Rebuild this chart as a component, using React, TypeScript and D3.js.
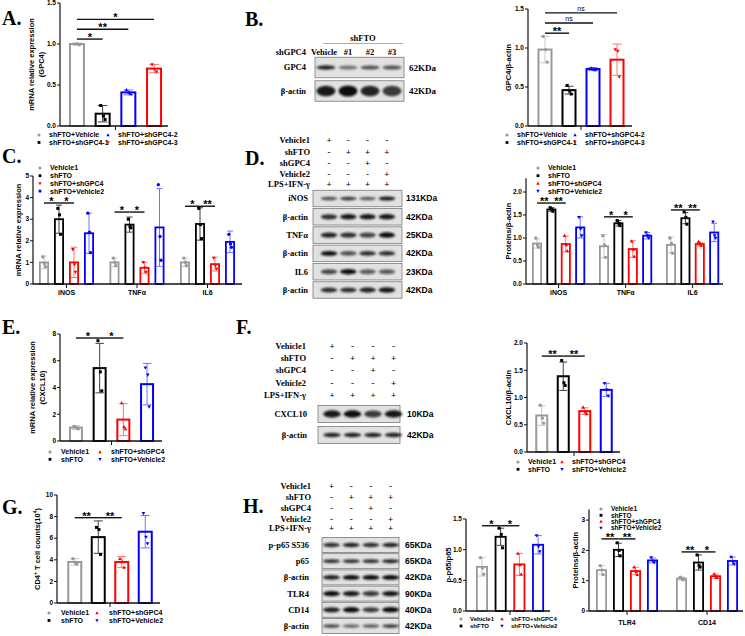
import React from "react";
import * as d3 from "d3";

// ---------------- DATA ----------------
const seriesA = ["shFTO+Vehicle", "shFTO+shGPC4-1", "shFTO+shGPC4-2", "shFTO+shGPC4-3"];
const seriesMain = ["Vehicle1", "shFTO", "shFTO+shGPC4", "shFTO+Vehicle2"];
const catsCD = ["iNOS", "TNFα", "IL6"];
const catsH2 = ["TLR4", "CD14"];
const single = [""];

// A: mRNA GPC4
const aMean = [1.0, 0.15, 0.41, 0.70];
const aSD = [0.01, 0.1, 0.03, 0.05];
const aPts = [[1.0, 1.0, 0.99], [0.25, 0.12, 0.08], [0.44, 0.41, 0.39], [0.75, 0.69, 0.66]];
// B: GPC4/β-actin
const bMean = [0.98, 0.46, 0.73, 0.85];
const bSD = [0.17, 0.05, 0.02, 0.2];
const bPts = [[1.15, 0.98, 0.82], [0.52, 0.45, 0.41], [0.74, 0.73, 0.72], [0.98, 0.96, 0.63]];
// C: mRNA iNOS/TNFα/IL6  [cat][series]
const cMean = [[1.0, 3.0, 1.0, 2.35], [1.0, 2.75, 0.75, 2.62], [1.0, 2.78, 0.92, 1.95]];
const cSD = [[0.3, 0.65, 0.7, 0.93], [0.2, 0.35, 0.25, 1.8], [0.2, 0.75, 0.32, 0.5]];
const cPts = [
  [[1.25, 0.95, 0.8], [3.5, 3.2, 2.3], [1.6, 0.9, 0.55], [3.28, 2.4, 1.45]],
  [[1.2, 1.0, 0.85], [3.0, 2.65, 2.6], [1.0, 0.75, 0.55], [4.6, 2.2, 1.1]],
  [[1.2, 1.0, 0.85], [3.5, 2.75, 2.1], [1.2, 0.85, 0.7], [2.3, 1.85, 1.7]],
];
// D: Proteins/β-actin
const dMean = [[0.88, 1.62, 0.87, 1.23], [0.82, 1.32, 0.76, 1.05], [0.85, 1.43, 0.87, 1.12]];
const dSD = [[0.1, 0.04, 0.17, 0.23], [0.25, 0.06, 0.18, 0.07], [0.17, 0.12, 0.04, 0.2]];
const dPts = [
  [[1.0, 0.85, 0.8], [1.66, 1.62, 1.58], [1.05, 0.85, 0.72], [1.45, 1.2, 1.05]],
  [[1.05, 0.85, 0.58], [1.38, 1.32, 1.27], [0.93, 0.75, 0.6], [1.12, 1.05, 1.0]],
  [[1.0, 0.88, 0.67], [1.57, 1.45, 1.3], [0.92, 0.87, 0.84], [1.35, 1.05, 1.0]],
];
// E: mRNA CXCL10
const eMean = [1.0, 5.45, 1.6, 4.25];
const eSD = [0.15, 1.85, 1.2, 1.55];
const ePts = [[1.1, 1.0, 0.9], [7.5, 5.17, 3.75], [2.85, 1.05, 0.9], [5.47, 4.94, 2.55]];
// F: CXCL10/β-actin
const fMean = [0.67, 1.39, 0.75, 1.14];
const fSD = [0.18, 0.26, 0.06, 0.12];
const fPts = [[0.86, 0.62, 0.53], [1.68, 1.27, 1.22], [0.82, 0.73, 0.7], [1.26, 1.14, 1.03]];
// G: CD4+ T cell counts
const gMean = [3.8, 6.1, 3.8, 6.6];
const gSD = [0.3, 1.5, 0.5, 1.5];
const gPts = [[4.1, 3.7, 3.6], [7.0, 6.8, 4.5], [4.1, 3.8, 3.3], [8.3, 6.1, 5.5]];
// H1: p-p65/p65
const h1Mean = [0.72, 1.21, 0.76, 1.08];
const h1SD = [0.15, 0.14, 0.18, 0.15];
const h1Pts = [[0.87, 0.7, 0.6], [1.35, 1.25, 1.03], [0.94, 0.75, 0.6], [1.23, 1.05, 0.97]];
// H2: TLR4 / CD14
const h2Mean = [[1.35, 2.02, 1.32, 1.67], [1.07, 1.6, 1.15, 1.65]];
const h2SD = [[0.15, 0.22, 0.12, 0.08], [0.05, 0.25, 0.07, 0.13]];
const h2Pts = [
  [[1.5, 1.35, 1.2], [2.25, 2.0, 1.82], [1.45, 1.3, 1.2], [1.76, 1.65, 1.6]],
  [[1.12, 1.07, 1.03], [1.85, 1.5, 1.45], [1.22, 1.12, 1.1], [1.78, 1.62, 1.55]],
];

// Blots
const lanes4 = ["L1", "L2", "L3", "L4"];
const treatLabels = ["Vehicle1", "shFTO", "shGPC4", "Vehicle2", "LPS+IFN-γ"];
const treatMatrix = [
  ["+", "-", "-", "-"],
  ["-", "+", "+", "+"],
  ["-", "-", "+", "-"],
  ["-", "-", "-", "+"],
  ["+", "+", "+", "+"],
];
const bLaneLabels = ["Vehicle", "#1", "#2", "#3"];
const bBlotNames = ["GPC4", "β-actin"];
const bBlotKDa = ["62KDa", "42KDa"];
const bBlotBands = [[0.85, 0.5, 0.65, 0.65], [0.9, 1.0, 0.85, 0.75]];
const dBlotNames = ["iNOS", "β-actin", "TNFα", "β-actin", "IL6", "β-actin"];
const dBlotKDa = ["131KDa", "42KDa", "25KDa", "42KDa", "23KDa", "42KDa"];
const dBlotBands = [
  [0.65, 0.75, 0.6, 0.9], [0.8, 0.9, 0.9, 0.9], [0.85, 0.8, 0.7, 1.0],
  [0.95, 0.65, 0.8, 0.8], [0.7, 0.95, 0.6, 0.6], [0.8, 0.8, 0.85, 0.9],
];
const fBlotNames = ["CXCL10", "β-actin"];
const fBlotKDa = ["10KDa", "42KDa"];
const fBlotBands = [[0.9, 0.95, 0.75, 0.9], [0.85, 0.85, 0.85, 0.85]];
const hBlotNames = ["p-p65 S536", "p65", "β-actin", "TLR4", "CD14", "β-actin"];
const hBlotKDa = ["65KDa", "65KDa", "42KDa", "90KDa", "40KDa", "42KDa"];
const hBlotBands = [
  [0.8, 0.85, 0.8, 0.85], [0.8, 0.8, 0.8, 0.85], [0.85, 0.95, 0.95, 0.95],
  [0.95, 0.9, 0.75, 0.9], [0.85, 0.95, 0.75, 1.0], [0.7, 0.55, 0.6, 0.75],
];

// ---------------- STYLE ----------------
const SANS = "'Liberation Sans', Arial, Helvetica, sans-serif";
const SERIF = "'Liberation Serif', 'Times New Roman', serif";
const GRAY = "#999999", BLACK = "#000000", RED = "#ff0000", BLUE = "#0000ff";
const f1 = d3.format(".1f");
const fd = d3.format("d");

type Shape = "circle" | "square" | "up" | "down";

function bandAt(domain: string[], c0: number, step: number, width: number) {
  const pi = 1 - width / step;
  return d3
    .scaleBand<string>()
    .domain(domain)
    .range([c0 - step / 2, c0 - step / 2 + domain.length * step])
    .paddingInner(pi)
    .paddingOuter(pi / 2);
}

function Marker({ shape, x, y, color, s = 3 }: { shape: Shape; x: number; y: number; color: string; s?: number }) {
  if (shape === "circle") return <circle cx={x} cy={y} r={s * 0.55} fill={color} />;
  if (shape === "square") return <rect x={x - s / 2} y={y - s / 2} width={s} height={s} fill={color} />;
  if (shape === "up")
    return <path d={`M${x},${y - s * 0.65}L${x + s * 0.6},${y + s * 0.45}L${x - s * 0.6},${y + s * 0.45}Z`} fill={color} />;
  return <path d={`M${x},${y + s * 0.65}L${x + s * 0.6},${y - s * 0.45}L${x - s * 0.6},${y - s * 0.45}Z`} fill={color} />;
}

interface Sig { cat: number; v: number; segs: [number, number, string][] }
interface LegendCfg { x: number; y: number; textDx: number; colDx: number; rowDy: number; perCol: number; fs: number }
interface ChartCfg {
  axisX: number; y0: number; yTop: number; dmax: number; ticks: number[]; fmt: (n: number) => string;
  xEnd: number; cats: string[]; catC0: number; catStep: number;
  series: string[]; serStep: number; barW: number;
  means: number[][]; sds: number[][]; pts: number[][][];
  colors: string[]; shapes: Shape[]; sig: Sig[];
  ylabel: React.ReactNode[]; ylabelX: number[]; legend: LegendCfg; xLabelDy?: number; stroke?: number;
}

function Chart({ c }: { c: ChartCfg }) {
  const y = d3.scaleLinear().domain([0, c.dmax]).range([c.y0, c.yTop]);
  const outer = bandAt(c.cats, c.catC0, c.catStep, c.catStep * 0.9);
  const inner = bandAt(c.series, -1.5 * c.serStep, c.serStep, c.barW);
  const oc = (i: number) => outer(c.cats[i])! + outer.bandwidth() / 2;
  const ic = (j: number) => inner(c.series[j])! + inner.bandwidth() / 2;
  const bw = inner.bandwidth();
  const sw = c.stroke ?? 2;
  const cy = (c.y0 + c.yTop) / 2;
  const offs = [-0.12, 0.05, 0.15];
  const L = c.legend;
  return (
    <g>
      {c.ylabel.map((lab, k) => (
        <text key={k} transform={`translate(${c.ylabelX[k]},${cy}) rotate(-90)`} textAnchor="middle"
          fontSize={7.5} fontWeight="bold" fontFamily={SANS}>{lab}</text>
      ))}
      <line x1={c.axisX} x2={c.axisX} y1={c.y0} y2={c.yTop} stroke="#111" strokeWidth={1.2} />
      {c.ticks.map((t) => (
        <g key={t}>
          <line x1={c.axisX - 3} x2={c.axisX} y1={y(t)} y2={y(t)} stroke="#111" strokeWidth={1} />
          <text x={c.axisX - 4} y={y(t)} dy="0.35em" textAnchor="end" fontSize={6.5} fontWeight="bold" fontFamily={SANS}>
            {c.fmt(t)}
          </text>
        </g>
      ))}
      {c.cats.map((cat, i) =>
        c.series.map((s, j) => {
          const x = oc(i) + ic(j);
          const m = c.means[i][j];
          const sd = c.sds[i][j];
          const col = c.colors[j];
          const cap = bw * 0.3;
          return (
            <g key={cat + s}>
              <rect x={x - bw / 2 + sw / 2} y={y(m)} width={bw - sw} height={c.y0 - y(m)} fill="#fff" stroke={col} strokeWidth={sw} />
              <g stroke={col} strokeWidth={1} opacity={j === 1 ? 0.75 : 0.55}>
                <line x1={x} x2={x} y1={y(Math.max(0, m - sd))} y2={y(m + sd)} />
                <line x1={x - cap} x2={x + cap} y1={y(m + sd)} y2={y(m + sd)} />
                {m - sd > 0 && <line x1={x - cap} x2={x + cap} y1={y(m - sd)} y2={y(m - sd)} />}
              </g>
              {c.pts[i][j].map((p, k) => (
                <Marker key={k} shape={c.shapes[j]} x={x + offs[k] * bw} y={y(p)} color={col} s={3} />
              ))}
            </g>
          );
        })
      )}
      <line x1={c.axisX} x2={c.xEnd} y1={c.y0} y2={c.y0} stroke="#111" strokeWidth={1.4} />
      {c.cats.map((cat, i) => (
        <g key={"xt" + i}>
          <line x1={oc(i)} x2={oc(i)} y1={c.y0} y2={c.y0 + 4} stroke="#111" strokeWidth={1} />
          {cat && (
            <text x={oc(i)} y={c.y0 + (c.xLabelDy ?? 11)} textAnchor="middle" fontSize={7} fontWeight="bold" fontFamily={SANS}>{cat}</text>
          )}
        </g>
      ))}
      {c.sig.map((sg, si) =>
        sg.segs.map(([a, b, lab], k) => {
          const x1 = oc(sg.cat) + ic(a);
          const x2 = oc(sg.cat) + ic(b);
          const yy = y(sg.v);
          const isNs = lab === "ns";
          return (
            <g key={si + "-" + k}>
              <line x1={x1} x2={x2} y1={yy} y2={yy} stroke="#111" strokeWidth={1.4} />
              <text x={(x1 + x2) / 2} y={isNs ? yy - 2 : yy + 2} textAnchor="middle" fontFamily={SANS}
                fontSize={isNs ? 7 : 11} fontWeight={isNs ? "normal" : "bold"}>{lab}</text>
            </g>
          );
        })
      )}
      {c.series.map((s, j) => {
        const col = Math.floor(j / L.perCol);
        const row = j % L.perCol;
        const mx = L.x + col * L.colDx;
        const my = L.y + row * L.rowDy;
        return (
          <g key={"lg" + j}>
            <Marker shape={c.shapes[j]} x={mx} y={my} color={c.colors[j]} s={2.8} />
            <text x={mx + L.textDx} y={my} dy="0.35em" fontSize={L.fs} fontWeight="bold" fontFamily={SANS}>{s}</text>
          </g>
        );
      })}
    </g>
  );
}

interface BlotCfg {
  laneC0: number; laneStep: number; boxX0: number; boxX1: number;
  rowC0: number; rowStep: number; rowH: number;
  names: string[]; kda: string[]; bands: number[][]; thick: number[];
  labelEnd: number; kdaX: number; kdaSerif: boolean;
  header?: { baselines: number[]; labelEnd: number };
}

function Blot({ b }: { b: BlotCfg }) {
  const lane = bandAt(lanes4, b.laneC0, b.laneStep, b.laneStep * 0.86);
  const rowKeys = b.names.map((_, i) => "r" + i);
  const row = bandAt(rowKeys, b.rowC0, b.rowStep, b.rowH);
  const lc = (k: number) => lane(lanes4[k])! + lane.bandwidth() / 2;
  return (
    <g>
      {b.header &&
        treatLabels.map((lab, r) => (
          <g key={lab}>
            <text x={b.header!.labelEnd} y={b.header!.baselines[r]} textAnchor="end" fontSize={8.5} fontWeight="bold" fontFamily={SERIF}>{lab}</text>
            {treatMatrix[r].map((sgn, k) => (
              <text key={k} x={lc(k)} y={b.header!.baselines[r]} textAnchor="middle" fontSize={9} fontWeight="bold" fontFamily={SERIF}>{sgn}</text>
            ))}
          </g>
        ))}
      {b.names.map((nm, i) => {
        const top = row(rowKeys[i])!;
        const h = row.bandwidth();
        const cyy = top + h / 2;
        return (
          <g key={i}>
            <rect x={b.boxX0} y={top} width={b.boxX1 - b.boxX0} height={h} fill="#e1e1e1" stroke="#7a7a7a" strokeWidth={0.8} />
            {b.bands[i].map((v, k) => (
              <ellipse key={k} cx={lc(k)} cy={cyy} rx={lane.bandwidth() / 2} ry={(b.thick[i] / 2) * (0.75 + 0.25 * v)}
                fill="#111" opacity={Math.min(1, v * 1.05)} filter="url(#blurBand)" />
            ))}
            <text x={b.labelEnd} y={cyy} dy="0.35em" textAnchor="end" fontSize={8.5} fontWeight="bold" fontFamily={SERIF}>{nm}</text>
            <text x={b.kdaX} y={cyy} dy="0.35em" fontSize={b.kdaSerif ? 9 : 8.5} fontWeight="bold" fontFamily={b.kdaSerif ? SERIF : SANS}>{b.kda[i]}</text>
          </g>
        );
      })}
    </g>
  );
}

const colsA = [GRAY, BLACK, BLUE, RED];
const shapesA: Shape[] = ["circle", "square", "up", "down"];
const colsM = [GRAY, BLACK, RED, BLUE];
const shapesC: Shape[] = ["circle", "square", "down", "circle"];
const shapesM: Shape[] = ["circle", "square", "up", "down"];

const chartA: ChartCfg = {
  axisX: 60, y0: 126, yTop: 3, dmax: 1.5, ticks: [0, 0.5, 1, 1.5], fmt: f1, xEnd: 168,
  cats: single, catC0: 115.5, catStep: 110, series: seriesA, serStep: 25.7, barW: 16,
  means: [aMean], sds: [aSD], pts: [aPts], colors: colsA, shapes: shapesA,
  sig: [
    { cat: 0, v: 1.06, segs: [[0, 1, "*"]] },
    { cat: 0, v: 1.18, segs: [[0, 2, "**"]] },
    { cat: 0, v: 1.3, segs: [[0, 3, "*"]] },
  ],
  ylabel: ["mRNA relative expression", "(GPC4)"], ylabelX: [34, 44],
  legend: { x: 39, y: 135, textDx: 10, colDx: 69, rowDy: 7.5, perCol: 2, fs: 7 },
};
const chartB: ChartCfg = {
  axisX: 528, y0: 126, yTop: 9, dmax: 1.5, ticks: [0, 0.5, 1, 1.5], fmt: f1, xEnd: 632,
  cats: single, catC0: 581, catStep: 100, series: seriesA, serStep: 24, barW: 15,
  means: [bMean], sds: [bSD], pts: [bPts], colors: colsA, shapes: shapesA,
  sig: [
    { cat: 0, v: 1.19, segs: [[0, 1, "**"]] },
    { cat: 0, v: 1.32, segs: [[0, 2, "ns"]] },
    { cat: 0, v: 1.45, segs: [[0, 3, "ns"]] },
  ],
  ylabel: ["GPC4/β-actin"], ylabelX: [511],
  legend: { x: 507, y: 135, textDx: 10, colDx: 68, rowDy: 7.5, perCol: 2, fs: 7 },
};
const chartC: ChartCfg = {
  axisX: 33, y0: 284, yTop: 176, dmax: 5, ticks: [0, 1, 2, 3, 4, 5], fmt: fd, xEnd: 242,
  cats: catsCD, catC0: 66.5, catStep: 70.5, series: seriesMain, serStep: 15, barW: 10,
  means: cMean, sds: cSD, pts: cPts, colors: colsM, shapes: shapesC,
  sig: [
    { cat: 0, v: 3.75, segs: [[0, 1, "*"], [1, 2, "*"]] },
    { cat: 1, v: 3.33, segs: [[0, 1, "*"], [1, 2, "*"]] },
    { cat: 2, v: 3.6, segs: [[0, 1, "*"], [1, 2, "**"]] },
  ],
  ylabel: ["mRNA relative expression"], ylabelX: [21],
  legend: { x: 40, y: 168, textDx: 10, colDx: 0, rowDy: 7.7, perCol: 4, fs: 7 }, stroke: 1.8,
};
const chartD: ChartCfg = {
  axisX: 526, y0: 284, yTop: 284 - 2.3 * 46, dmax: 2.3, ticks: [0, 0.5, 1, 1.5, 2], fmt: f1, xEnd: 723,
  cats: catsCD, catC0: 558.6, catStep: 67, series: seriesMain, serStep: 14.4, barW: 10,
  means: dMean, sds: dSD, pts: dPts, colors: colsM, shapes: shapesM,
  sig: [
    { cat: 0, v: 1.76, segs: [[0, 1, "**"], [1, 2, "**"]] },
    { cat: 1, v: 1.46, segs: [[0, 1, "*"], [1, 2, "*"]] },
    { cat: 2, v: 1.61, segs: [[0, 1, "**"], [1, 2, "**"]] },
  ],
  ylabel: ["Proteins/β-actin"], ylabelX: [511],
  legend: { x: 538, y: 168, textDx: 10, colDx: 0, rowDy: 7.7, perCol: 4, fs: 7 }, stroke: 1.8,
};
const chartE: ChartCfg = {
  axisX: 60, y0: 441, yTop: 334, dmax: 8, ticks: [0, 2, 4, 6, 8], fmt: fd, xEnd: 162,
  cats: single, catC0: 111.5, catStep: 100, series: seriesMain, serStep: 23.7, barW: 14,
  means: [eMean], sds: [eSD], pts: [ePts], colors: colsM, shapes: shapesM,
  sig: [{ cat: 0, v: 7.7, segs: [[0, 1, "*"], [1, 2, "*"]] }],
  ylabel: ["mRNA relative expression", "(CXCL10)"], ylabelX: [35, 45],
  legend: { x: 50, y: 452, textDx: 11, colDx: 50, rowDy: 7.3, perCol: 2, fs: 7 },
};
const chartF: ChartCfg = {
  axisX: 527, y0: 452, yTop: 343, dmax: 2, ticks: [0, 0.5, 1, 1.5, 2], fmt: f1, xEnd: 620,
  cats: single, catC0: 574, catStep: 90, series: seriesMain, serStep: 21.5, barW: 13,
  means: [fMean], sds: [fSD], pts: [fPts], colors: colsM, shapes: shapesM,
  sig: [{ cat: 0, v: 1.76, segs: [[0, 1, "**"], [1, 2, "**"]] }],
  ylabel: ["CXCL10/β-actin"], ylabelX: [511],
  legend: { x: 518, y: 462, textDx: 10, colDx: 44, rowDy: 7.3, perCol: 2, fs: 7 },
};
const chartG: ChartCfg = {
  axisX: 57, y0: 603, yTop: 495, dmax: 10, ticks: [0, 2, 4, 6, 8, 10], fmt: fd, xEnd: 160,
  cats: single, catC0: 110, catStep: 100, series: seriesMain, serStep: 23.5, barW: 15,
  means: [gMean], sds: [gSD], pts: [gPts], colors: colsM, shapes: shapesM,
  sig: [{ cat: 0, v: 7.9, segs: [[0, 1, "**"], [1, 2, "**"]] }],
  ylabel: [
    <>
      CD4<tspan dy={-3} fontSize={5}>+</tspan>
      <tspan dy={3}> T cell counts(10</tspan>
      <tspan dy={-3} fontSize={5}>4</tspan>
      <tspan dy={3}>)</tspan>
    </>,
  ],
  ylabelX: [40],
  legend: { x: 49, y: 613, textDx: 12, colDx: 48, rowDy: 7.5, perCol: 2, fs: 7 },
};
const chartH1: ChartCfg = {
  axisX: 466, y0: 611, yTop: 519, dmax: 1.5, ticks: [0, 0.5, 1, 1.5], fmt: f1, xEnd: 550,
  cats: single, catC0: 510, catStep: 80, series: seriesMain, serStep: 18.7, barW: 12,
  means: [h1Mean], sds: [h1SD], pts: [h1Pts], colors: colsM, shapes: shapesM,
  sig: [{ cat: 0, v: 1.39, segs: [[0, 1, "*"], [1, 2, "*"]] }],
  ylabel: ["p-p65/p65"], ylabelX: [451],
  legend: { x: 461, y: 619, textDx: 9, colDx: 41, rowDy: 7, perCol: 2, fs: 6 }, stroke: 1.8,
};
const chartH2: ChartCfg = {
  axisX: 589, y0: 611, yTop: 611 - 3.35 * 30.3, dmax: 3.35, ticks: [0, 1, 2, 3], fmt: fd, xEnd: 743,
  cats: catsH2, catC0: 627, catStep: 80, series: seriesMain, serStep: 17, barW: 11,
  means: h2Mean, sds: h2SD, pts: h2Pts, colors: colsM, shapes: shapesM,
  sig: [
    { cat: 0, v: 2.38, segs: [[0, 1, "**"], [1, 2, "**"]] },
    { cat: 1, v: 1.95, segs: [[0, 1, "**"], [1, 2, "*"]] },
  ],
  ylabel: ["Proteins/β-actin"], ylabelX: [578],
  legend: { x: 601, y: 509, textDx: 10, colDx: 0, rowDy: 6.3, perCol: 4, fs: 6.5 }, xLabelDy: 14, stroke: 1.8,
};

const blotB: BlotCfg = {
  laneC0: 326, laneStep: 22, boxX0: 315, boxX1: 404, rowC0: 67.5, rowStep: 23.5, rowH: 20.5,
  names: bBlotNames, kda: bBlotKDa, bands: bBlotBands, thick: [4.5, 11], labelEnd: 306, kdaX: 409, kdaSerif: true,
};
const blotD: BlotCfg = {
  laneC0: 329, laneStep: 19.3, boxX0: 313, boxX1: 402, rowC0: 198.5, rowStep: 18.3, rowH: 16.5,
  names: dBlotNames, kda: dBlotKDa, bands: dBlotBands, thick: [4, 5.5, 5.5, 5, 5.5, 5.5], labelEnd: 308, kdaX: 406, kdaSerif: false,
  header: { baselines: [143, 155, 166, 177, 187], labelEnd: 310 },
};
const blotF: BlotCfg = {
  laneC0: 332, laneStep: 20.5, boxX0: 318, boxX1: 400, rowC0: 414, rowStep: 21, rowH: 17,
  names: fBlotNames, kda: fBlotKDa, bands: fBlotBands, thick: [7.5, 4.5], labelEnd: 307, kdaX: 407, kdaSerif: false,
  header: { baselines: [349, 361, 373, 386, 398], labelEnd: 306 },
};
const blotH: BlotCfg = {
  laneC0: 331.5, laneStep: 19.7, boxX0: 322, boxX1: 399, rowC0: 545, rowStep: 16.2, rowH: 15,
  names: hBlotNames, kda: hBlotKDa, bands: hBlotBands, thick: [4.5, 4, 5, 5.5, 5.5, 4], labelEnd: 309, kdaX: 405, kdaSerif: false,
  header: { baselines: [489, 500, 511, 522, 531], labelEnd: 311 },
};

const panelLetters: [string, number, number][] = [
  ["A.", 2, 25], ["B.", 245, 26], ["C.", 2, 163], ["D.", 245, 165],
  ["E.", 2, 334], ["F.", 236, 334], ["G.", 2, 514], ["H.", 243, 513],
];

export default function App() {
  const laneB = bandAt(lanes4, blotB.laneC0, blotB.laneStep, blotB.laneStep * 0.82);
  return (
    <svg width={745} height={636} viewBox="0 0 745 636"
      style={{ position: "absolute", left: 0, top: 0, background: "#fff" }}>
      <defs>
        <filter id="blurBand" x="-30%" y="-80%" width="160%" height="260%">
          <feGaussianBlur stdDeviation="0.9" />
        </filter>
      </defs>
      <rect width={745} height={636} fill="#fff" />
      {panelLetters.map(([t, x, y]) => (
        <text key={t} x={x} y={y} fontSize={20} fontWeight="bold" fontFamily={SERIF}>{t}</text>
      ))}

      {/* Blot B header */}
      <text x={363} y={41} textAnchor="middle" fontSize={8.5} fontWeight="bold" fontFamily={SERIF}>shFTO</text>
      <line x1={323} x2={403} y1={43.5} y2={43.5} stroke="#999" strokeWidth={0.8} />
      <text x={306} y={55} textAnchor="end" fontSize={8.5} fontWeight="bold" fontFamily={SERIF}>shGPC4</text>
      {bLaneLabels.map((l, k) => (
        <text key={l} x={laneB(lanes4[k])! + laneB.bandwidth() / 2 + (k === 0 ? -2 : 0)} y={55} textAnchor="middle"
          fontSize={8.5} fontWeight="bold" fontFamily={SERIF}>{l}</text>
      ))}

      <Blot b={blotB} />
      <Blot b={blotD} />
      <Blot b={blotF} />
      <Blot b={blotH} />

      <Chart c={chartA} />
      <Chart c={chartB} />
      <Chart c={chartC} />
      <Chart c={chartD} />
      <Chart c={chartE} />
      <Chart c={chartF} />
      <Chart c={chartG} />
      <Chart c={chartH1} />
      <Chart c={chartH2} />
    </svg>
  );
}
